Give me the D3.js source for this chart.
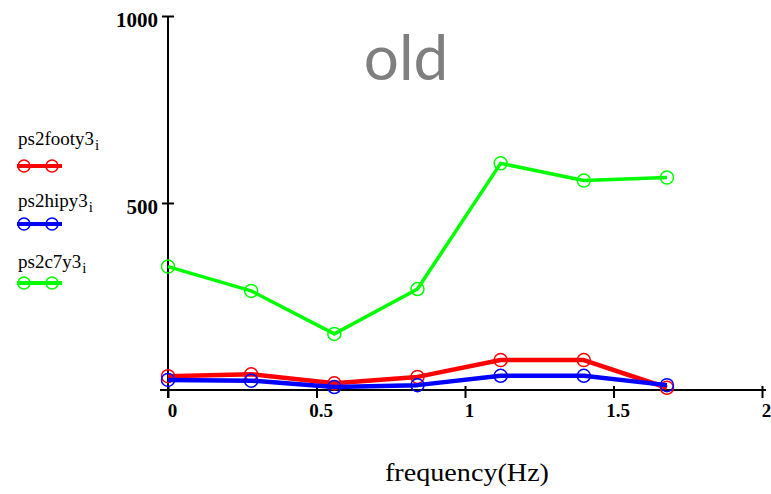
<!DOCTYPE html>
<html>
<head>
<meta charset="utf-8">
<script src="https://cdn.jsdelivr.net/npm/d3@7"></script>
<style>
  html, body { margin: 0; padding: 0; background: #fff; }
  svg { display: block; }
</style>
</head>
<body>
<svg id="chart" width="771" height="494"></svg>
<script>
// Spectral power at each frequency bin (Hz)
const freqs = [0, 0.28, 0.56, 0.84, 1.12, 1.40, 1.68];
const footy = [37, 42, 18, 35, 80, 80, 6];
const hipy = [27, 25, 8, 13, 38, 38, 13];
const c7y = [330, 265, 150, 270, 606, 560, 568];

const xTicks = [0, 0.5, 1, 1.5, 2];
const yTicks = [500, 1000];

const seriesNames = ["ps2footy3", "ps2hipy3", "ps2c7y3"];
const seriesValues = [footy, hipy, c7y];
const seriesColors = ["#ff0000", "#0000ff", "#00ff00"];
const seriesWidths = [4.5, 4.5, 3.5];

const svg = d3.select("#chart");

const x = d3.scaleLinear().domain([0, 2]).range([168, 762]);
const y = d3.scaleLinear().domain([0, 1000]).range([390, 16]);

const serif = "'Liberation Serif', 'Times New Roman', serif";

// Title
svg.append("text")
  .attr("x", 406).attr("y", 80)
  .attr("text-anchor", "middle")
  .attr("font-family", "Lato, 'Open Sans', sans-serif")
  .attr("font-weight", 400)
  .attr("font-size", 62)
  .attr("fill", "#7f7f7f")
  .text("old");

// Axes
const xAxis = svg.append("g")
  .attr("transform", `translate(0,${y(0)})`)
  .call(d3.axisBottom(x).tickValues(xTicks).tickFormat(d3.format("")).tickSize(0));
xAxis.select(".domain").remove();
xAxis.selectAll(".tick line").attr("y1", -4).attr("y2", 8)
  .attr("stroke", "#000").attr("stroke-width", 2);
xAxis.selectAll(".tick text")
  .attr("y", 20).attr("dy", "0.35em").attr("dx", 4)
  .attr("font-family", serif)
  .attr("font-weight", "bold")
  .attr("font-size", 19)
  .attr("fill", "#000");

const yAxis = svg.append("g")
  .attr("transform", `translate(${x(0)},0)`)
  .call(d3.axisLeft(y).tickValues(yTicks).tickFormat(d3.format("")).tickSize(0));
yAxis.select(".domain").remove();
yAxis.selectAll(".tick line").attr("x1", -6).attr("x2", 6)
  .attr("stroke", "#000").attr("stroke-width", 2);
yAxis.selectAll(".tick text")
  .attr("x", -10).attr("dy", "0.5em")
  .attr("font-family", serif)
  .attr("font-weight", "bold")
  .attr("font-size", 21)
  .attr("fill", "#000");

// Axis lines
svg.append("line")
  .attr("x1", x(0)).attr("x2", x(0))
  .attr("y1", y(1000)).attr("y2", y(0) + 8)
  .attr("stroke", "#000").attr("stroke-width", 2);
svg.append("line")
  .attr("x1", x(0) - 8).attr("x2", x(2) + 4)
  .attr("y1", y(0)).attr("y2", y(0))
  .attr("stroke", "#000").attr("stroke-width", 2);

// Series
const line = d3.line().x((d, i) => x(freqs[i])).y(d => y(d));
seriesValues.forEach((vals, k) => {
  const g = svg.append("g");
  g.append("path")
    .datum(vals)
    .attr("d", line)
    .attr("fill", "none")
    .attr("stroke", seriesColors[k])
    .attr("stroke-width", seriesWidths[k])
    .attr("stroke-linejoin", "round");
  g.selectAll("circle")
    .data(vals)
    .join("circle")
    .attr("cx", (d, i) => x(freqs[i]))
    .attr("cy", d => y(d))
    .attr("r", 6.5)
    .attr("fill", "none")
    .attr("stroke", seriesColors[k])
    .attr("stroke-width", 1.5);
});

// Legend
const legendTextY = [145, 207, 268];
const legendLineY = [166, 224, 283];
seriesNames.forEach((name, k) => {
  const t = svg.append("text")
    .attr("x", 18).attr("y", legendTextY[k])
    .attr("font-family", serif)
    .attr("font-size", 19)
    .attr("fill", "#000");
  t.append("tspan").text(name);
  t.append("tspan").attr("dy", 5).attr("dx", 1).attr("font-size", 15).text("i");
  svg.append("line")
    .attr("x1", 17).attr("x2", 62)
    .attr("y1", legendLineY[k]).attr("y2", legendLineY[k])
    .attr("stroke", seriesColors[k]).attr("stroke-width", 4);
  [24, 52].forEach(cx => {
    svg.append("circle")
      .attr("cx", cx).attr("cy", legendLineY[k]).attr("r", 6)
      .attr("fill", "none")
      .attr("stroke", seriesColors[k])
      .attr("stroke-width", 1.5);
  });
});

// Axis title
svg.append("text")
  .attr("x", 467).attr("y", 481)
  .attr("text-anchor", "middle")
  .attr("font-family", serif)
  .attr("font-size", 25)
  .attr("textLength", 164)
  .attr("lengthAdjust", "spacingAndGlyphs")
  .attr("fill", "#000")
  .text("frequency(Hz)");
</script>
</body>
</html>
